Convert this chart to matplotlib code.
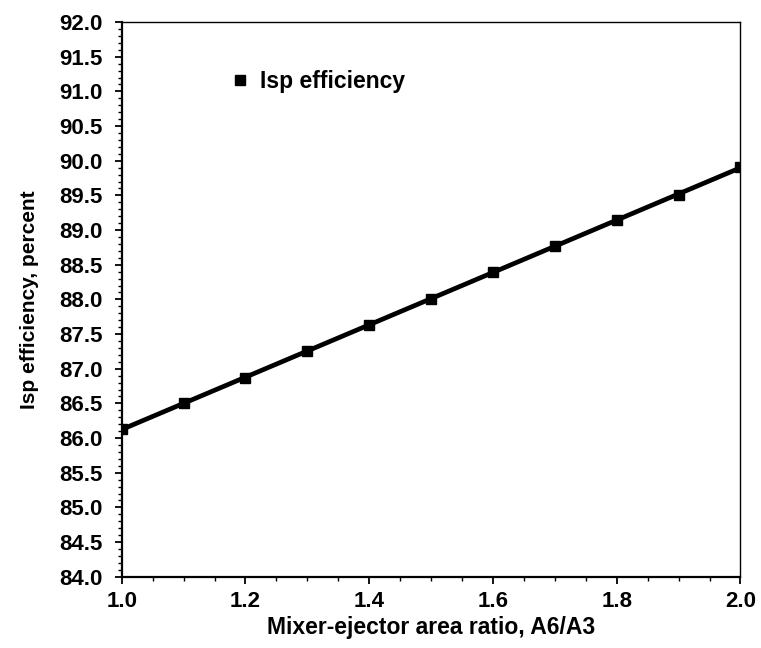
import numpy as np
import matplotlib
matplotlib.use("Agg")
import matplotlib.pyplot as plt
from matplotlib.ticker import MultipleLocator

plt.rcParams['font.family'] = ['Liberation Sans', 'DejaVu Sans']
plt.rcParams['font.weight'] = 'bold'

# dati
area_ratio = [1.0, 1.1, 1.2, 1.3, 1.4, 1.5, 1.6, 1.7, 1.8, 1.9, 2.0]
isp_eff = [86.13, 86.50, 86.87, 87.26, 87.63, 88.01, 88.39, 88.77, 89.14, 89.51, 89.91]

x = np.array(area_ratio)
y = np.array(isp_eff)

fig = plt.figure(figsize=(7.61, 6.48), dpi=100)
ax = fig.add_axes([0.160, 0.110, 0.813, 0.856])

# retta di regressione
p = np.polyfit(x, y, 1)
ax.plot(x, np.polyval(p, x), color='black', lw=3.4, zorder=2)
ax.plot(x, y, 's', color='black', markersize=6.5, zorder=3, label='Isp efficiency')

ax.set_xlim(1.0, 2.0)
ax.set_ylim(84.0, 92.0)
ax.xaxis.set_major_locator(MultipleLocator(0.2))
ax.xaxis.set_minor_locator(MultipleLocator(0.05))
ax.yaxis.set_major_locator(MultipleLocator(0.5))
ax.yaxis.set_minor_locator(MultipleLocator(0.1))
ax.xaxis.set_major_formatter(plt.FormatStrFormatter('%.1f'))
ax.yaxis.set_major_formatter(plt.FormatStrFormatter('%.1f'))

ax.tick_params(which='major', length=5, width=1.3, labelsize=16, direction='out')
ax.tick_params(which='minor', length=3, width=1.0, direction='out')
ax.tick_params(axis='x', pad=5)
ax.tick_params(axis='y', pad=9)
for s in ['left', 'bottom']:
    ax.spines[s].set_linewidth(1.6)
for s in ['top', 'right']:
    ax.spines[s].set_linewidth(1.0)

ax.set_xlabel('Mixer-ejector area ratio, A6/A3', fontsize=16.5, fontweight='bold', labelpad=3)
ax.set_ylabel('Isp efficiency, percent', fontsize=15, fontweight='bold', labelpad=14)

ax.legend(loc='center left', bbox_to_anchor=(0.172, 0.892), frameon=False,
          fontsize=16.5, handletextpad=0.41, handlelength=1.0,
          borderpad=0, borderaxespad=0)

fig.savefig('out.png', dpi=100)
